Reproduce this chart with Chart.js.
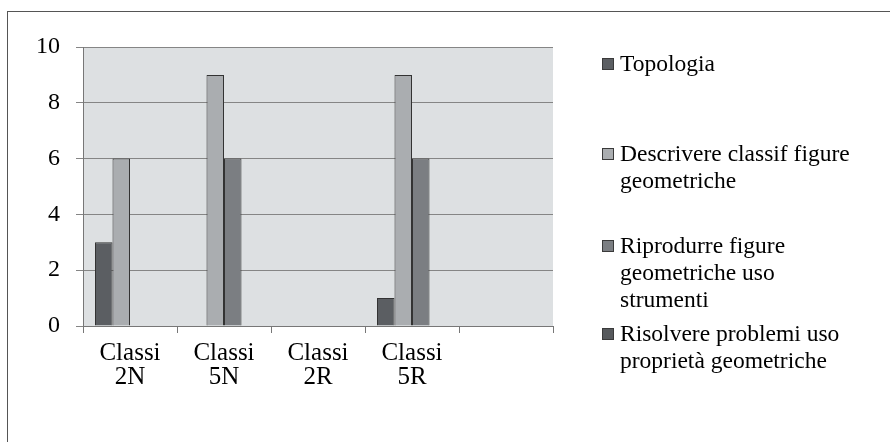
<!DOCTYPE html>
<html>
<head>
<meta charset="utf-8">
<script src="https://cdn.jsdelivr.net/npm/chart.js@4.4.1/dist/chart.umd.min.js"></script>
<style>
  html, body { margin: 0; padding: 0; background: #fff; }
  #wrap { position: relative; width: 890px; height: 442px; overflow: hidden; }
  #frame { position: absolute; left: 7px; top: 11px; width: 900px; height: 450px; border: 1px solid #555; box-sizing: border-box; }
  #chart { position: absolute; left: 0; top: 0; }
  .leg { position: absolute; left: 620px; font-family: "Liberation Serif", "Times New Roman", serif; font-size: 23.5px; line-height: 27px; color: #000; white-space: nowrap; }
  .leg i { position: absolute; left: -18px; top: 8px; width: 10px; height: 10px; border: 1px solid #3a3a3a; }
</style>
</head>
<body>
<div id="wrap">
  <div id="frame"></div>
  <canvas id="chart" width="890" height="442"></canvas>
</div>
<script>
const categories = [['Classi', '2N'], ['Classi', '5N'], ['Classi', '2R'], ['Classi', '5R'], ''];
const seriesNames = [
  'Topologia',
  'Descrivere classif figure geometriche',
  'Riprodurre figure geometriche uso strumenti',
  'Risolvere problemi uso proprietà geometriche'
];
const legendLines = [
  ['Topologia'],
  ['Descrivere classif figure', 'geometriche'],
  ['Riprodurre figure', 'geometriche uso', 'strumenti'],
  ['Risolvere problemi uso', 'proprietà geometriche']
];
const topologia = [3, 0, 0, 1, null];
const descrivere = [6, 9, 0, 9, null];
const riprodurre = [0, 6, 0, 6, null];
const risolvere = [0, 0, 0, 0, null];
const yTicks = [0, 2, 4, 6, 8, 10];

const colors = ['#5b5e62', '#aaadb0', '#7b7e82', '#56595c'];
const legendTops = [50, 140, 232, 320];

const serif = '"Liberation Serif", "Times New Roman", serif';

// grey fill behind the plot
const plotBackground = {
  id: 'plotBackground',
  beforeDraw(chart) {
    const { ctx, chartArea: a } = chart;
    ctx.save();
    ctx.fillStyle = '#dde0e2';
    ctx.fillRect(a.left, a.top, a.right - a.left, a.bottom - a.top);
    ctx.restore();
  }
};

const values = [topologia, descrivere, riprodurre, risolvere];

new Chart(document.getElementById('chart'), {
  type: 'bar',
  data: {
    labels: categories,
    datasets: seriesNames.map((name, i) => ({
      label: name,
      data: values[i],
      backgroundColor: colors[i],
      borderColor: '#333',
      borderWidth: 1,
      barPercentage: 1,
      categoryPercentage: 0.745
    }))
  },
  options: {
    responsive: false,
    animation: false,
    layout: { padding: { top: 47, right: 337, left: 0, bottom: 0 } },
    plugins: {
      legend: { display: false },
      tooltip: { enabled: false }
    },
    scales: {
      x: {
        afterFit(axis) { axis.height = 116; },
        grid: { display: true, drawOnChartArea: false, tickLength: 7, color: '#777' },
        border: { color: '#777' },
        ticks: {
          color: '#000',
          padding: 8,
          maxRotation: 0,
          font: { family: serif, size: 25, lineHeight: 0.96 }
        }
      },
      y: {
        min: 0,
        max: 10,
        afterFit(axis) { axis.width = 83; },
        afterBuildTicks(axis) { axis.ticks = yTicks.map(v => ({ value: v })); },
        grid: { color: '#858585', tickLength: 7 },
        border: { color: '#777' },
        ticks: {
          color: '#000',
          padding: 16,
          font: { family: serif, size: 24 }
        }
      }
    }
  },
  plugins: [plotBackground]
});

// legend beside the plot
const wrap = document.getElementById('wrap');
legendLines.forEach((lines, i) => {
  const d = document.createElement('div');
  d.className = 'leg';
  d.style.top = legendTops[i] + 'px';
  const box = document.createElement('i');
  box.style.background = colors[i];
  d.appendChild(box);
  lines.forEach((t, j) => {
    if (j) d.appendChild(document.createElement('br'));
    d.appendChild(document.createTextNode(t));
  });
  wrap.appendChild(d);
});
</script>
</body>
</html>
